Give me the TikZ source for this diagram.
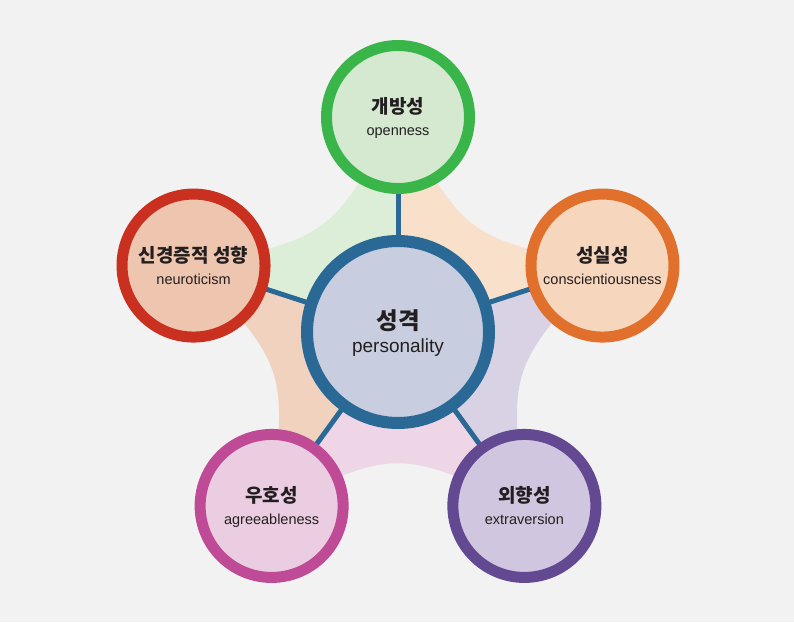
\documentclass[tikz,border=0pt]{standalone}
\usepackage{fontspec}
\setmainfont{Liberation Sans}
\newfontfamily\kr{Noto Sans CJK KR}
\pgfdeclarelayer{bg}
\pgfsetlayers{bg,main}
\definecolor{bgc}{HTML}{F2F2F2}
\definecolor{txt}{HTML}{231F20}
\definecolor{blueR}{HTML}{2A6996}\definecolor{blueF}{HTML}{C8CEE0}
\definecolor{greenR}{HTML}{39B54A}\definecolor{greenF}{HTML}{D4E9CF}\definecolor{greenS}{HTML}{DDEED8}
\definecolor{orangeR}{HTML}{E0702C}\definecolor{orangeF}{HTML}{F6D6BC}\definecolor{orangeS}{HTML}{F9E0CB}
\definecolor{redR}{HTML}{C9301F}\definecolor{redF}{HTML}{EEC5AE}\definecolor{redS}{HTML}{F0D2BF}
\definecolor{pinkR}{HTML}{BF4B96}\definecolor{pinkF}{HTML}{EBCDE2}\definecolor{pinkS}{HTML}{EFD6E7}
\definecolor{purpleR}{HTML}{634892}\definecolor{purpleF}{HTML}{D1C6DF}\definecolor{purpleS}{HTML}{D9D2E4}
\begin{document}
\begin{tikzpicture}[x=1pt,y=1pt,
  trait/.style={circle, minimum size=143pt, line width=11pt, inner sep=0pt},
  core/.style={circle, minimum size=182pt, line width=12pt, inner sep=0pt, draw=blueR, fill=blueF},
  spoke/.style={line width=5pt, draw=blueR, shorten <=-3pt, shorten >=-3pt},
  kt/.style={anchor=base, inner sep=0pt, text=txt, font=\kr\bfseries\fontsize{19}{22}\selectfont},
  et/.style={anchor=base, inner sep=0pt, text=txt, font=\fontsize{14.5}{17}\selectfont}]
\useasboundingbox (0,0) rectangle (794,622);
\begin{pgfonlayer}{bg}
\fill[bgc] (0,0) rectangle (794,622);
\end{pgfonlayer}
\begin{scope}[shift={(398,290)}]
\def\blob{(90:215) .. controls (126:117) .. (162:215) .. controls (198:117) .. (234:215) .. controls (270:117) .. (306:215) .. controls (342:117) .. (18:215) .. controls (54:117) .. cycle}
\begin{pgfonlayer}{bg}
\begin{scope}
\clip \blob;
\fill[greenS] (0,0) -- (90:400) -- (126:400) -- (162:400) -- cycle;
\fill[redS] (0,0) -- (162:400) -- (198:400) -- (234:400) -- cycle;
\fill[pinkS] (0,0) -- (234:400) -- (270:400) -- (306:400) -- cycle;
\fill[purpleS] (0,0) -- (306:400) -- (342:400) -- (378:400) -- cycle;
\fill[orangeS] (0,0) -- (18:400) -- (54:400) -- (90:400) -- cycle;
\end{scope}
\end{pgfonlayer}
\node[core] (pers) at (0,0) {};
\node[trait, draw=greenR, fill=greenF] (open) at (90:215) {};
\node[trait, draw=redR, fill=redF] (neuro) at (162:215) {};
\node[trait, draw=pinkR, fill=pinkF] (agree) at (234:215) {};
\node[trait, draw=purpleR, fill=purpleF] (extra) at (306:215) {};
\node[trait, draw=orangeR, fill=orangeF] (consc) at (18:215) {};
\begin{pgfonlayer}{bg}
\draw[spoke] (pers) -- (open);
\draw[spoke] (pers) -- (neuro);
\draw[spoke] (pers) -- (agree);
\draw[spoke] (pers) -- (extra);
\draw[spoke] (pers) -- (consc);
\end{pgfonlayer}
\node[kt, font=\kr\bfseries\fontsize{23.5}{26}\selectfont] (pers-k) at ([yshift=3pt]pers.center) {성격};
\node[et, font=\fontsize{19}{22}\selectfont] (pers-e) at ([yshift=-20pt]pers.center) {personality};
\node[kt] (open-k) at ([yshift=3pt]open.center) {개방성};
\node[et] (open-e) at ([yshift=-18.5pt]open.center) {openness};
\node[kt] (neuro-k) at ([yshift=3pt]neuro.center) {신경증적 성향};
\node[et] (neuro-e) at ([yshift=-18.5pt]neuro.center) {neuroticism};
\node[kt] (agree-k) at ([yshift=3pt]agree.center) {우호성};
\node[et] (agree-e) at ([yshift=-18.5pt]agree.center) {agreeableness};
\node[kt] (extra-k) at ([yshift=3pt]extra.center) {외향성};
\node[et] (extra-e) at ([yshift=-18.5pt]extra.center) {extraversion};
\node[kt] (consc-k) at ([yshift=3pt]consc.center) {성실성};
\node[et] (consc-e) at ([yshift=-18.5pt]consc.center) {conscientiousness};
\end{scope}
\end{tikzpicture}
\end{document}
